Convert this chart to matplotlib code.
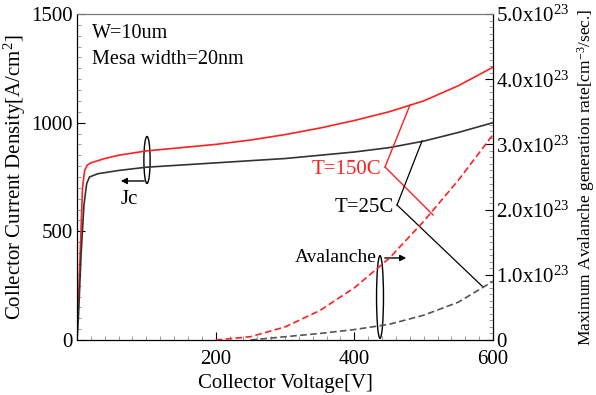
import matplotlib
matplotlib.use("Agg")
import matplotlib.pyplot as plt
from matplotlib.patches import Ellipse
from matplotlib.ticker import MultipleLocator

# Jc curves (left axis)
v_jc_150 = [0, 4, 8, 11, 15, 20, 40, 60, 100, 150, 200, 250, 300, 350, 400, 450, 500, 550, 600]
jc_150 = [0, 350, 700, 780, 805, 815, 835, 850, 870, 885, 900, 920, 945, 975, 1010, 1050, 1100, 1170, 1255]
v_jc_25 = [0, 2, 6, 10, 14, 18, 30, 60, 100, 150, 200, 250, 300, 350, 400, 450, 500, 550, 600]
jc_25 = [0, 100, 400, 620, 720, 750, 765, 780, 795, 805, 815, 825, 835, 850, 865, 885, 915, 955, 1000]

# avalanche generation rate (right axis, x1e23)
v_av_150 = [200, 250, 300, 350, 400, 450, 500, 550, 600]
av_150 = [0, 0.05, 0.2, 0.45, 0.8, 1.25, 1.82, 2.45, 3.15]
v_av_25 = [250, 300, 350, 400, 450, 500, 550, 600]
av_25 = [0, 0.05, 0.1, 0.16, 0.24, 0.38, 0.58, 0.9]

right_ticks = [0, 1, 2, 3, 4, 5]
right_labels = ['0'] + [r'%.1fx10$^{23}$' % t for t in right_ticks[1:]]

plt.rcParams['font.family'] = 'Liberation Serif'
plt.rcParams['mathtext.fontset'] = 'custom'
plt.rcParams['mathtext.rm'] = 'Liberation Serif'
plt.rcParams['mathtext.it'] = 'Liberation Serif'

fig = plt.figure(figsize=(5.96, 3.95), dpi=100)
ax = fig.add_axes([77/596, 55/395, 416/596, 326/395])
ax2 = ax.twinx()

ax.plot(v_jc_150, jc_150, color='#ff2020', lw=1.2)
ax.plot(v_jc_25, jc_25, color='#333333', lw=1.2)
ax2.plot(v_av_150, av_150, color='#ff2020', lw=1.2, dashes=(4, 2))
ax2.plot(v_av_25, av_25, color='#555555', lw=1.2, dashes=(4, 2))

ax.set_xlim(0, 600)
ax.set_ylim(0, 1500)
ax2.set_ylim(0, 5)

ax.set_xticks([0, 200, 400, 600])
ax.set_xticklabels(['', '200', '400', '600'])
ax.xaxis.set_minor_locator(MultipleLocator(20))
ax.set_yticks([0, 500, 1000, 1500])
ax.yaxis.set_minor_locator(MultipleLocator(50))
ax2.set_yticks(right_ticks)
ax2.set_yticklabels(right_labels)
ax2.yaxis.set_minor_locator(MultipleLocator(0.1))

ax.tick_params(which='both', direction='in', top=False, right=False, labelsize=15)
ax.tick_params(axis='x', pad=7)
ax.tick_params(axis='y', pad=3)
ax.tick_params(which='major', length=6)
ax.tick_params(which='minor', length=3, color='#888888')
ax2.tick_params(which='both', direction='in', labelsize=15, pad=2)
ax2.tick_params(which='major', length=6)
ax2.tick_params(which='minor', length=3, color='#888888')
ax.spines['top'].set_color('#777777')
ax2.spines['top'].set_color('#777777')

ax.set_xlabel('Collector Voltage[V]', fontsize=15, labelpad=4)
ax.set_ylabel('Collector Current Density[A/cm$^2$]', fontsize=15, labelpad=2)
ax2.set_ylabel('Maximum Avalanche generation rate[cm$^{-3}$/sec.]', fontsize=12.5, labelpad=4)

# text notes
ax.text(22, 1410, 'W=10um', fontsize=14.5, va='center')
ax.text(22, 1290, 'Mesa width=20nm', fontsize=14.5, va='center')

def px(x, y):
    # pixel position in image -> left-axis data
    return (x - 77) / 0.6933, (340 - y) / 0.2173

tx, ty = px(381, 170)
ax.text(tx, ty, 'T=150C', color='#ff2020', fontsize=15, ha='right', va='center')
for ex, ey in [(410, 105), (433, 215)]:
    a, b = px(385, 167)
    c, d = px(ex, ey)
    ax.plot([a, c], [b, d], color='#ff2020', lw=1)

tx, ty = px(394, 208)
ax.text(tx, ty, 'T=25C', color='black', fontsize=15, ha='right', va='center')
for ex, ey in [(422, 141), (483, 287)]:
    a, b = px(397, 205)
    c, d = px(ex, ey)
    ax.plot([a, c], [b, d], color='black', lw=0.9)

# Jc marker
cx, cy = px(147, 160)
ax.add_patch(Ellipse((cx, cy), 9, 216, fill=False, color='black', lw=1))
a, b = px(147, 181)
c, d = px(118, 181)
ax.annotate('', xy=(c, d), xytext=(a, b),
            arrowprops=dict(arrowstyle='-|>', color='black', lw=1, mutation_scale=9))
tx, ty = px(129, 200)
ax.text(tx, ty, 'Jc', fontsize=15, ha='center', va='center')

# Avalanche marker
cx, cy = px(380, 297)
ax.add_patch(Ellipse((cx, cy), 10, 380, fill=False, color='black', lw=1))
a, b = px(382, 258)
c, d = px(409, 258)
ax.annotate('', xy=(c, d), xytext=(a, b),
            arrowprops=dict(arrowstyle='-|>', color='black', lw=1, mutation_scale=9))
tx, ty = px(377, 258)
ax.text(tx, ty, 'Avalanche', fontsize=14, ha='right', va='center')

fig.savefig('out.png', dpi=100)
